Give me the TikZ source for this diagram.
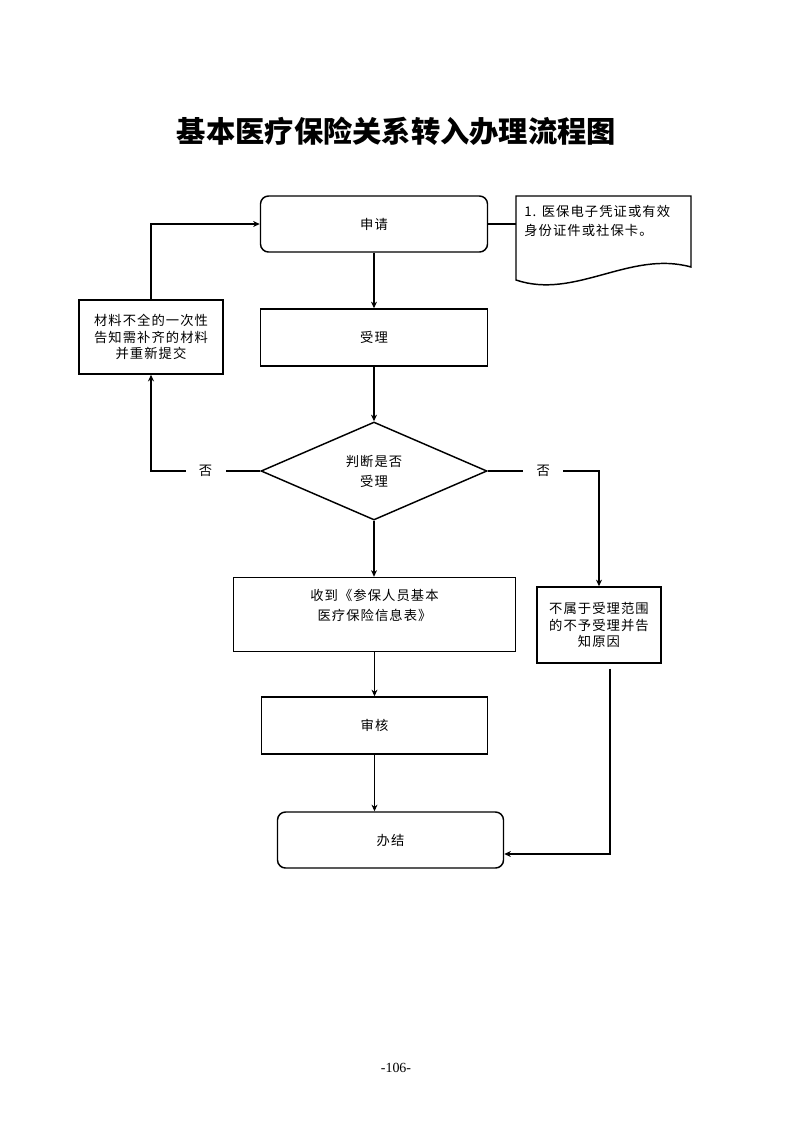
\documentclass[tikz,border=0pt]{standalone}
\usepackage{fontspec}
\setmainfont{Liberation Serif}
\newfontfamily\cjk[LetterSpace=8]{Noto Sans CJK SC}
\newfontfamily\cjktitle{Noto Sans CJK SC}
\usetikzlibrary{arrows.meta,shapes.geometric,calc}
\newcommand{\pxu}{0.7513pt}

\tikzset{
    box/.style={draw, line width=1.1pt, align=center, inner sep=2pt,
        font={\cjk\fontsize{10}{12.5}\selectfont}},
    roundbox/.style={box, rounded corners=6pt},
    judgebox/.style={box, diamond, inner sep=0pt,
        font={\cjk\fontsize{10}{15}\selectfont}},
    arrow/.style={line width=1.1pt, -{Stealth[length=5pt,width=4.5pt]}},
    link/.style={line width=1.1pt},
    nolabel/.style={fill=white, inner xsep=10pt, inner ysep=2pt,
        font={\cjk\fontsize{10}{12}\selectfont}}
}

\begin{document}
\begin{tikzpicture}[x=\pxu, y=-\pxu]
    \useasboundingbox (0,0) rectangle (793,1122);

    % Title
    \node[font={\cjktitle\bfseries\fontsize{22}{26}\selectfont}] (title) at (396.5,131) {基本医疗保险关系转入办理流程图};

    % Main column
    \node[roundbox, minimum width=227*\pxu, minimum height=56*\pxu] (apply) at (374,224) {申请};
    \node[box, minimum width=227*\pxu, minimum height=57*\pxu] (accept) at (374,337.5) {受理};
    \node[judgebox, minimum width=226*\pxu, minimum height=98*\pxu] (judge) at (374,471) {判断是否\\受理};
    \node[box, minimum width=282*\pxu, minimum height=74*\pxu,
        font={\cjk\fontsize{10}{15}\selectfont}] (receive) at (374.5,614.5) {收到《参保人员基本\\医疗保险信息表》\\\mbox{}};
    \node[box, minimum width=226*\pxu, minimum height=57*\pxu] (audit) at (374.5,725.5) {审核};
    \node[roundbox, minimum width=226*\pxu, minimum height=56*\pxu] (done) at (390.5,840) {办结};

    % Side boxes
    \node[box, minimum width=144*\pxu, minimum height=74*\pxu] (lack) at (151,337) {材料不全的一次性\\告知需补齐的材料\\并重新提交};
    \node[box, minimum width=124*\pxu, minimum height=76*\pxu] (reject) at (599,625) {不属于受理范围\\的不予受理并告\\知原因};

    % Note (document shape)
    \draw[link] (516,196) -- (691,196) -- (691,267) .. controls (630,250) and (575,300) .. (516,280) -- cycle;
    \node[anchor=north west, inner sep=0pt, align=left,
        font={\cjk\fontsize{10}{14.3}\selectfont}] (note) at (524,205) {1. 医保电子凭证或有效\\身份证件或社保卡。};
    \coordinate (notel) at (516,224);
    \draw[link] (apply.east) -- (notel);

    % Flow
    \draw[arrow] (apply.south) -- (apply.south |- accept.north);
    \draw[arrow] (accept.south) -- (accept.south |- judge.north);
    \draw[arrow] (judge.south) -- (judge.south |- receive.north);
    \draw[arrow] (receive.south) -- (receive.south |- audit.north);
    \draw[arrow] (audit.south) -- (audit.south |- done.north);

    % No branches
    \draw[arrow] (judge.west) -- node[nolabel] {否} (judge.west -| lack.south) -- (lack.south);
    \draw[arrow] (lack.north) |- (apply.west);
    \draw[arrow] (judge.east) -- node[nolabel] {否} (judge.east -| reject.north) -- (reject.north);
    \draw[arrow] ([xshift=11*\pxu, yshift=-5*\pxu]reject.south) |- ([yshift=-14*\pxu]done.east);

    % Page number
    \node[font=\fontsize{10.5}{12}\selectfont] (page) at (396,1068) {-106-};
\end{tikzpicture}
\end{document}
